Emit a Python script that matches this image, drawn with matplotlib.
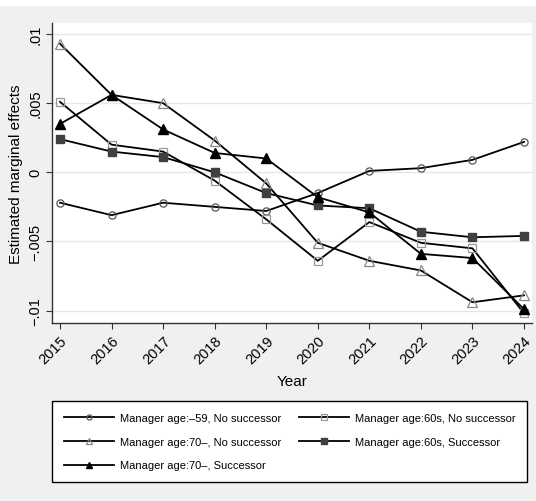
import numpy as np
import matplotlib.pyplot as plt
from matplotlib.patches import Rectangle

plt.rcParams['font.family'] = ['Liberation Sans', 'DejaVu Sans']

years = [2015, 2016, 2017, 2018, 2019, 2020, 2021, 2022, 2023, 2024]

# estimated marginal effects
young_nosucc = [-0.0022, -0.0031, -0.0022, -0.0025, -0.0028, -0.0015, 0.0001, 0.0003, 0.0009, 0.0022]
sixties_nosucc = [0.0051, 0.0020, 0.0015, -0.0006, -0.0034, -0.0064, -0.0036, -0.0051, -0.0055, -0.0102]
seventies_nosucc = [0.0093, 0.0056, 0.0050, 0.0023, -0.0008, -0.0051, -0.0064, -0.0071, -0.0094, -0.0089]
sixties_succ = [0.0024, 0.0015, 0.0011, 0.0000, -0.0015, -0.0024, -0.0026, -0.0043, -0.0047, -0.0046]
seventies_succ = [0.0035, 0.0056, 0.0031, 0.0014, 0.0010, -0.0018, -0.0029, -0.0059, -0.0062, -0.0099]

labels = ['Manager age:\u201359, No successor',
          'Manager age:60s, No successor',
          'Manager age:70\u2013, No successor',
          'Manager age:60s, Successor',
          'Manager age:70\u2013, Successor']

yticks = [-0.01, -0.005, 0, 0.005, 0.01]
yticklabels = ['\u2212.01', '\u2212.005', '0', '.005', '.01']

W, H = 536, 502
fig = plt.figure(figsize=(W / 100, H / 100), dpi=100, facecolor='#f0f0f0')
fig.patches.append(Rectangle((0, 1 - 7 / H), 1, 7 / H, transform=fig.transFigure,
                             facecolor='white', edgecolor='none', zorder=0))

ax = fig.add_axes([52 / W, 1 - 324 / H, (532 - 52) / W, (324 - 24) / H])
ax.set_facecolor('white')

lw = 1.3
h = []
h += ax.plot(years, young_nosucc, color='black', lw=lw, marker='o', ms=5.2,
             mfc='none', mec='#555555', mew=0.9, label=labels[0])
h += ax.plot(years, sixties_nosucc, color='black', lw=lw, marker='s', ms=5.6,
             mfc='none', mec='#999999', mew=0.9, label=labels[1])
h += ax.plot(years, seventies_nosucc, color='black', lw=lw, marker='^', ms=6.5,
             mfc='none', mec='#888888', mew=0.9, label=labels[2])
h += ax.plot(years, sixties_succ, color='black', lw=lw, marker='s', ms=6.3,
             mfc='#404040', mec='#404040', label=labels[3])
h += ax.plot(years, seventies_succ, color='black', lw=lw, marker='^', ms=7,
             mfc='black', mec='black', label=labels[4])

ax.set_xlim(2014.845, 2024.155)
ax.set_ylim(-0.0109, 0.0108)
ax.set_xticks(years)
ax.set_xticklabels([str(y) for y in years], rotation=45, ha='right',
                   rotation_mode='anchor', fontsize=10.5)
ax.set_yticks(yticks)
ax.set_yticklabels(yticklabels, rotation=90, va='center', fontsize=10.5)
ax.tick_params(length=4, width=0.8, color='#333333', pad=3)
ax.grid(axis='y', color='#e6e6e6', lw=1)
ax.set_axisbelow(True)
for s in ['top', 'right']:
    ax.spines[s].set_visible(False)
for s in ['left', 'bottom']:
    ax.spines[s].set_color('#333333')
    ax.spines[s].set_linewidth(1)

ax.set_xlabel('Year', fontsize=11, labelpad=6)
ax.set_ylabel('Estimated marginal effects', fontsize=11, labelpad=4)

# row-wise order for a 2-column legend
order = [0, 2, 4, 1, 3]
leg = fig.legend([h[i] for i in order], [labels[i] for i in order],
                 loc='upper left', ncol=2, mode='expand',
                 bbox_to_anchor=(52 / W, 1 - 482 / H, (527 - 52) / W, (482 - 402) / H),
                 fontsize=8, frameon=True, fancybox=False, edgecolor='black',
                 facecolor='white', framealpha=1, markerscale=0.7,
                 handlelength=4.5, handletextpad=0.55, labelspacing=1.25,
                 borderpad=1.05, borderaxespad=0, columnspacing=1.0)
leg.get_frame().set_linewidth(1)

fig.savefig('out.png', dpi=100, facecolor=fig.get_facecolor())
